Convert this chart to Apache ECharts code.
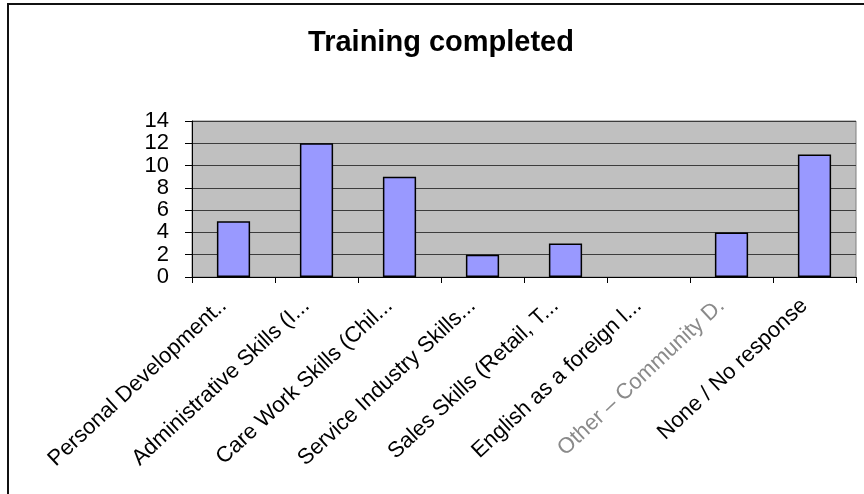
<!DOCTYPE html>
<html>
<head>
<meta charset="utf-8">
<title>Training completed</title>
<script src="https://cdn.jsdelivr.net/npm/echarts@6/dist/echarts.min.js"></script>
<style>
    html, body { margin: 0; padding: 0; background: #fff; }
    #main { width: 864px; height: 494px; }
</style>
</head>
<body>
<div id="main"></div>
<script>
    var categories = [
        'Personal Development..',
        'Administrative Skills (I...',
        'Care Work Skills (Chil...',
        'Service Industry Skills...',
        'Sales Skills (Retail, T...',
        'English as a foreign l...',
        'Other – Community D.',
        'None / No response'
    ];
    var completed = [5, 12, 9, 2, 3, 0, 4, 11];
    var yTicks = [0, 2, 4, 6, 8, 10, 12, 14];

    // zero values get no outline, so nothing shows on the axis
    var barData = completed.map(function (v) {
        return v === 0 ? {value: v, itemStyle: {borderWidth: 0}} : v;
    });

    var chart = echarts.init(document.getElementById('main'));
    var option = {
        animation: false,
        graphic: [
            // outer chart frame (cut off on right and bottom)
            {
                type: 'rect',
                shape: {x: 8, y: 4, width: 1000, height: 700},
                style: {fill: 'none', stroke: '#111', lineWidth: 2}
            },
            {
                type: 'text',
                x: 441,
                y: 43,
                style: {
                    text: 'Training completed',
                    font: 'bold 29px Arial, "Liberation Sans", sans-serif',
                    fill: '#000',
                    textAlign: 'center',
                    textVerticalAlign: 'middle'
                }
            }
        ],
        grid: {
            left: 192,
            right: 8,
            top: 121,
            bottom: 217,
            show: true,
            backgroundColor: '#C0C0C0',
            borderColor: '#808080',
            borderWidth: 1
        },
        xAxis: {
            type: 'category',
            data: categories,
            axisLine: {lineStyle: {color: '#000', width: 1}},
            axisTick: {show: true, length: 6, interval: 0, lineStyle: {color: '#000'}},
            axisLabel: {
                interval: 0,
                rotate: 43,
                margin: 16,
                padding: [0, 14, 0, 0],
                fontFamily: 'Arial, "Liberation Sans", sans-serif',
                fontSize: 22,
                color: function (val, idx) {
                    // the "Other" label is rendered faint/garbled in the original
                    return idx === 6 ? '#8a8a8a' : '#000';
                }
            }
        },
        yAxis: {
            type: 'value',
            min: yTicks[0],
            max: yTicks[yTicks.length - 1],
            interval: 2,
            axisLine: {show: true, lineStyle: {color: '#000', width: 1}},
            axisTick: {show: true, length: 7, lineStyle: {color: '#000'}},
            axisLabel: {
                margin: 23,
                fontFamily: 'Arial, "Liberation Sans", sans-serif',
                fontSize: 22,
                color: '#000'
            },
            splitLine: {show: true, lineStyle: {color: '#3c3c3c', width: 1}}
        },
        series: [
            {
                name: 'Training completed',
                type: 'bar',
                data: barData,
                barCategoryGap: '60%',
                itemStyle: {
                    color: '#9999FF',
                    borderColor: '#000',
                    borderWidth: 1.5
                }
            }
        ]
    };
    chart.setOption(option);
</script>
</body>
</html>
